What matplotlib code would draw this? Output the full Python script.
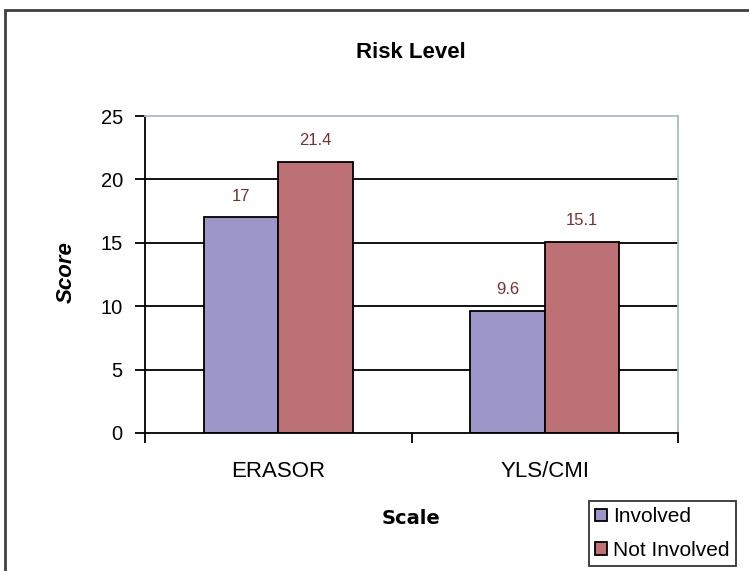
import numpy as np
import matplotlib.pyplot as plt
from matplotlib.patches import Rectangle

# data
scales = ['ERASOR', 'YLS/CMI']
involved = [17, 9.6]
not_involved = [21.4, 15.1]
series_names = ['Involved', 'Not Involved']
yticks = [0, 5, 10, 15, 20, 25]

plt.rcParams['font.family'] = ['Liberation Sans', 'DejaVu Sans']

W, H = 749, 571
fig = plt.figure(figsize=(W / 100, H / 100), dpi=100)
ax = fig.add_axes([145 / W, 1 - 433 / H, (678 - 145) / W, (433 - 116) / H])

# outer chart frame (runs off right and bottom edges)
fig.patches.append(Rectangle((5 / W, -0.05), 1.1, 1 - 10 / H + 0.05,
                             transform=fig.transFigure, fill=False,
                             edgecolor='#404040', linewidth=2, clip_on=False))

x = np.arange(len(scales))
w = 0.28
c_inv = '#9D96C8'
c_not = '#BD7174'
for yv in yticks[1:-1]:
    ax.axhline(yv, color='black', linewidth=1.3, zorder=1)
b1 = ax.bar(x - w / 2, involved, w, color=c_inv, edgecolor='black',
            linewidth=1.3, label=series_names[0], zorder=2)
b2 = ax.bar(x + w / 2, not_involved, w, color=c_not, edgecolor='black',
            linewidth=1.3, label=series_names[1], zorder=2)

for bars, vals in [(b1, involved), (b2, not_involved)]:
    for r, v in zip(bars, vals):
        ax.annotate(f'{v:g}', (r.get_x() + r.get_width() / 2, v),
                    xytext=(0, 10), textcoords='offset points',
                    ha='center', va='bottom', fontsize=12, color='#7A3030')

ax.set_xlim(-0.5, 1.5)
ax.set_ylim(0, 25)
ax.set_yticks(yticks)
ax.set_xticks([-0.5, 0.5, 1.5], minor=False)
ax.set_xticklabels(['', '', ''])
ax.set_xticks(x, minor=True)
ax.set_xticklabels(scales, minor=True, fontsize=16)
ax.tick_params(axis='x', which='major', length=7, width=1.3, direction='out')
ax.tick_params(axis='x', which='minor', length=0, pad=20)
ax.tick_params(axis='y', length=7, width=1.3, labelsize=14.5, pad=9)

for s in ['top', 'right']:
    ax.spines[s].set_color('#A8BCC8')
    ax.spines[s].set_linewidth(1.3)
for s in ['left', 'bottom']:
    ax.spines[s].set_linewidth(1.3)

fig.text(411 / W, 1 - 52 / H, 'Risk Level', ha='center', va='center',
         fontsize=16, fontweight='bold')
fig.text(66 / W, 1 - 272 / H, 'Score', ha='center', va='center',
         fontsize=16, fontweight='bold', fontstyle='italic', rotation=90)
fig.text(411 / W, 1 - 518 / H, 'Scale', ha='center', va='center',
         fontsize=14, fontweight='bold', family='DejaVu Sans')

leg = fig.legend(loc='upper left', bbox_to_anchor=(589 / W, 1 - 501 / H),
                 fontsize=15, frameon=True, fancybox=False, borderpad=0.3,
                 handlelength=0.55, handleheight=0.55, handletextpad=0.3,
                 labelspacing=0.7, borderaxespad=0)
leg.get_frame().set_edgecolor('black')
leg.get_frame().set_linewidth(1.3)

fig.savefig('out.png', dpi=100)
